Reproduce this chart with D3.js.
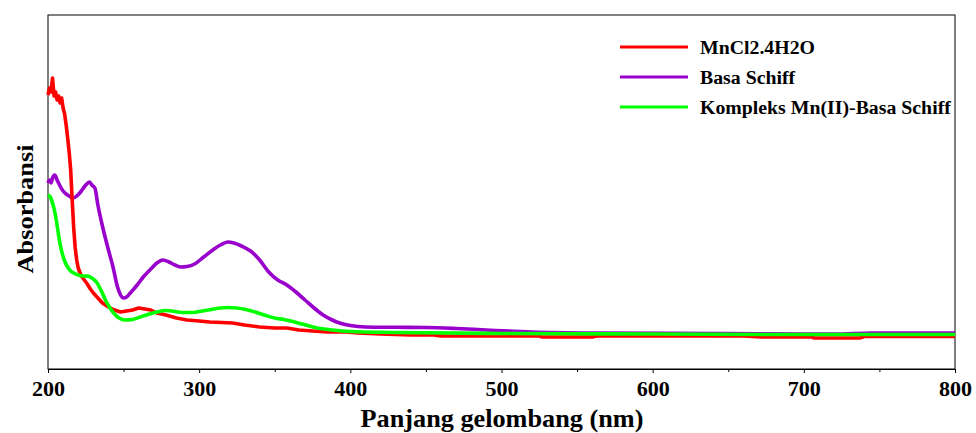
<!DOCTYPE html>
<html>
<head>
<meta charset="utf-8">
<script src="https://cdn.jsdelivr.net/npm/d3@7"></script>
<style>
  html, body { margin: 0; padding: 0; background: #fff; }
  svg { display: block; }
  text { font-family: "Liberation Serif", "Times New Roman", serif; font-weight: bold; fill: #000; }
</style>
</head>
<body>
<svg id="chart" width="976" height="433"></svg>
<script>
// UV-Vis spectra: wavelength (nm) and absorbance for each sample
const mnclWave = [200,201,202,203,204,205,206,207,208,209,210,211,212,213,214,215,216,217,218,219,220,222,224,226,228,230,233,236,240,244,248,252,256,260,264,268,272,278,285,292,300,307,315,322,330,340,350,358,366,375,385,397,405,420,440,455,460,480,500,525,527,560,563,620,660,672,705,707,737,740,800];
const mnclAbs  = [2.73,2.80,2.76,2.90,2.72,2.76,2.68,2.72,2.65,2.70,2.60,2.54,2.43,2.30,2.16,1.98,1.68,1.40,1.20,1.08,1.00,0.92,0.88,0.84,0.79,0.75,0.70,0.65,0.61,0.58,0.56,0.57,0.58,0.60,0.59,0.58,0.55,0.53,0.50,0.48,0.47,0.46,0.455,0.45,0.43,0.41,0.40,0.40,0.38,0.37,0.36,0.36,0.35,0.34,0.33,0.33,0.32,0.32,0.32,0.32,0.31,0.31,0.32,0.32,0.32,0.31,0.31,0.30,0.30,0.315,0.315];

const schiffWave = [200,201,202,203,204.5,206,208,210,212,214,216.5,219,221,223,225,227.5,229,231,233,236,240,243,246,248,250,252,255,259,263,268,272,276,280,284,288,292,297,303,309,314,319,323,328,334,340,346,352,358,364,370,376,382,388,394,400,410,430,450,470,490,520,560,650,700,720,745,800];
const schiffAbs  = [1.85,1.88,1.85,1.90,1.93,1.88,1.82,1.77,1.74,1.72,1.70,1.72,1.75,1.79,1.83,1.86,1.83,1.80,1.63,1.42,1.18,1.01,0.81,0.73,0.70,0.71,0.76,0.83,0.91,0.99,1.05,1.08,1.06,1.03,1.01,1.015,1.04,1.11,1.18,1.23,1.26,1.25,1.22,1.17,1.08,0.96,0.88,0.83,0.76,0.68,0.60,0.53,0.48,0.445,0.425,0.41,0.407,0.405,0.395,0.38,0.36,0.35,0.345,0.34,0.34,0.35,0.35];

const complexWave = [200,201.5,203,204.5,206,207.5,209,211,213,215,217,220,223,226,229,232,235,238,241,244,247,251,256,261,266,272,278,284,290,296,302,308,314,319,325,331,337,344,350,356,362,368,374,380,388,400,430,500,600,700,800];
const complexAbs  = [1.73,1.71,1.65,1.56,1.43,1.28,1.17,1.07,1.01,0.97,0.95,0.93,0.92,0.92,0.90,0.86,0.78,0.68,0.60,0.54,0.50,0.48,0.485,0.51,0.535,0.56,0.575,0.565,0.555,0.555,0.57,0.585,0.60,0.605,0.60,0.585,0.56,0.525,0.50,0.485,0.465,0.44,0.415,0.395,0.38,0.365,0.355,0.345,0.34,0.335,0.335];

const seriesNames  = ["MnCl2.4H2O", "Basa Schiff", "Kompleks Mn(II)-Basa Schiff"];
const seriesColors = ["#ff0000", "#9900cc", "#00ff00"];
const xTickValues  = [200, 300, 400, 500, 600, 700, 800];

const svg = d3.select("#chart");
const W = 976, H = 433;
const plot = { left: 48, right: 955, top: 15, bottom: 369 };
const yMin = -0.01, yMax = 3.53;

const x = d3.scaleLinear().domain([200, 800]).range([plot.left, plot.right]);
const y = d3.scaleLinear().domain([yMin, yMax]).range([plot.bottom, plot.top]);

// Times-like text is drawn slightly wide, so widths are fixed per label
function wideText(sel, factor) {
  sel.each(function () {
    const w = this.getComputedTextLength();
    d3.select(this).attr("textLength", w * factor).attr("lengthAdjust", "spacingAndGlyphs");
  });
}

// frame
svg.append("rect")
  .attr("x", x(200)).attr("y", y(yMax))
  .attr("width", x(800) - x(200)).attr("height", y(yMin) - y(yMax))
  .attr("fill", "none").attr("stroke", "#000").attr("stroke-width", 1);

// bottom axis with minor ticks
const gx = svg.append("g").attr("transform", `translate(0,${y(yMin)})`);
gx.call(d3.axisBottom(x).tickValues(d3.range(250, 800, 100)).tickSize(3).tickFormat(""))
  .call(g => g.select(".domain").remove());
gx.append("g").call(d3.axisBottom(x).tickValues(xTickValues).tickSize(4).tickPadding(8).tickFormat(d3.format("d")))
  .call(g => g.select(".domain").attr("stroke-width", 1))
  .call(g => g.selectAll("text").style("font-size", "21px").style("font-family", "Liberation Serif").style("font-weight", "bold").attr("fill", "#000").call(wideText, 1.05));

// axis titles
svg.append("text")
  .attr("x", (361 + 643) / 2).attr("y", 427)
  .attr("text-anchor", "middle").style("font-size", "25px")
  .text("Panjang gelombang (nm)").call(wideText, 1.05);
svg.append("text")
  .attr("transform", `translate(33,209) rotate(-90)`)
  .attr("text-anchor", "middle").style("font-size", "24px")
  .text("Absorbansi").call(wideText, 1.1);

// spectra
const series = [
  { wave: mnclWave, abs: mnclAbs, color: seriesColors[0], curve: d3.curveLinear },
  { wave: schiffWave, abs: schiffAbs, color: seriesColors[1], curve: d3.curveMonotoneX },
  { wave: complexWave, abs: complexAbs, color: seriesColors[2], curve: d3.curveMonotoneX }
];
const drawOrder = [1, 0, 2];
drawOrder.forEach(i => {
  const s = series[i];
  const pts = s.wave.map((w, k) => [w, s.abs[k]]);
  const line = d3.line().x(d => x(d[0])).y(d => y(d[1])).curve(s.curve);
  svg.append("path").datum(pts)
    .attr("d", line)
    .attr("fill", "none")
    .attr("stroke", s.color)
    .attr("stroke-width", 3.6)
    .attr("stroke-linejoin", "round");
});

// legend
const legend = svg.append("g").attr("transform", "translate(620,47)");
seriesNames.forEach((name, i) => {
  const row = legend.append("g").attr("transform", `translate(0,${i * 30})`);
  row.append("line").attr("x1", 0).attr("x2", 68).attr("y1", 0).attr("y2", 0)
    .attr("stroke", seriesColors[i]).attr("stroke-width", 3);
  row.append("text").attr("x", 80).attr("y", 6.5).style("font-size", "18px").text(name).call(wideText, 1.1);
});
</script>
</body>
</html>
